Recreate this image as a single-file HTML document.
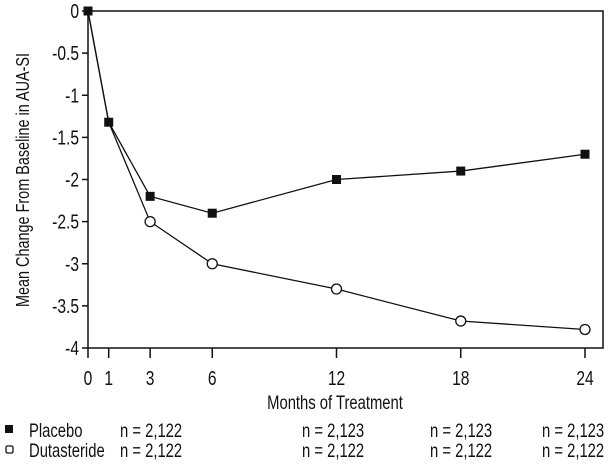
<!DOCTYPE html>
<html><head><meta charset="utf-8"><style>
body{margin:0;background:#fff;}
svg text{font-family:"Liberation Sans",sans-serif;fill:#111;}
</style></head><body>
<svg id="chart" width="615" height="469" viewBox="0 0 615 469">
<g id="axes"></g><g id="series"></g><g id="table"></g>
</svg>
<script>
const months=[0,1,3,6,12,18,24];
const placebo=[0,-1.32,-2.2,-2.4,-2.0,-1.9,-1.7];
const dutasteride=[0,-1.32,-2.5,-3.0,-3.3,-3.68,-3.78];
const yTicks=[0,-0.5,-1,-1.5,-2,-2.5,-3,-3.5,-4];
const yTickLabels=["0","-0.5","-1","-1.5","-2","-2.5","-3","-3.5","-4"];
const tableMonths=[1,12,18,24];
const placeboN=["n = 2,122","n = 2,123","n = 2,123","n = 2,123"];
const dutN=["n = 2,122","n = 2,122","n = 2,122","n = 2,122"];
const NS="http://www.w3.org/2000/svg";
const X0=88,X1=585,Y0=11,Y1=348,SX=0.78;
const xs=m=>X0+m/24*(X1-X0);
const ys=v=>Y0+(-v)/4*(Y1-Y0);
function mk(t,a,p){const e=document.createElementNS(NS,t);for(const k in a)e.setAttribute(k,a[k]);p.appendChild(e);return e;}
function txt(x,y,s,size,anchor,p,rot){const e=mk('text',{x:0,y:0,'font-size':size,'text-anchor':anchor||'start',transform:`translate(${x},${y})${rot?' rotate(-90)':''} scale(${SX},1)`},p);e.textContent=s;return e;}
const ax=document.getElementById('axes'),se=document.getElementById('series'),tb=document.getElementById('table');
let e;
e=mk('path',{d:`M${X0},${Y0}H603V${Y1}H${X0}Z`,fill:'none',stroke:'#111','stroke-width':1.5},ax);

yTicks.forEach((v,i)=>{
 e=mk('line',{x1:82,x2:X0,y1:ys(v),y2:ys(v),stroke:'#111','stroke-width':1.5},ax);
 
 e=txt(79,ys(v)+7,yTickLabels[i],20,'end',ax);
 
});
months.forEach(m=>{
 e=mk('line',{x1:xs(m),x2:xs(m),y1:Y1,y2:358,stroke:'#111','stroke-width':1.5},ax);
 
 e=txt(xs(m),385,String(m),20,'middle',ax);
 
});
e=txt(335,409,'Months of Treatment',19,'middle',ax);

e=txt(29,180,'Mean Change From Baseline in AUA-SI',18.5,'middle',ax,true);

function line(vals,name){const d=vals.map((v,i)=>(i?'L':'M')+xs(months[i])+','+ys(v)).join('');
 e=mk('path',{d,fill:'none',stroke:'#111','stroke-width':1.3},se);}
line(dutasteride,'dutasteride-line');line(placebo,'placebo-line');
dutasteride.forEach((v,i)=>{if(i<2)return;
 e=mk('circle',{cx:xs(months[i]),cy:ys(v),r:5,fill:'#fff',stroke:'#111','stroke-width':1.3},se);
 });
placebo.forEach((v,i)=>{
 e=mk('rect',{x:xs(months[i])-4.5,y:ys(v)-4.5,width:9,height:9,fill:'#111'},se);
 });
e=mk('rect',{x:5,y:425,width:8,height:8,fill:'#111'},tb);
e=mk('rect',{x:6,y:446,width:7,height:7,fill:'#fff',stroke:'#111','stroke-width':1.3,rx:1.5},tb);
e=txt(29,437,'Placebo',19,'start',tb);
e=txt(29,457,'Dutasteride',19,'start',tb);
const nx=[120,302,430,542];
tableMonths.forEach((m,i)=>{
 e=txt(nx[i],437,placeboN[i],19,'start',tb);
 e=txt(nx[i],457,dutN[i],19,'start',tb);
});
</script>
</body></html>
